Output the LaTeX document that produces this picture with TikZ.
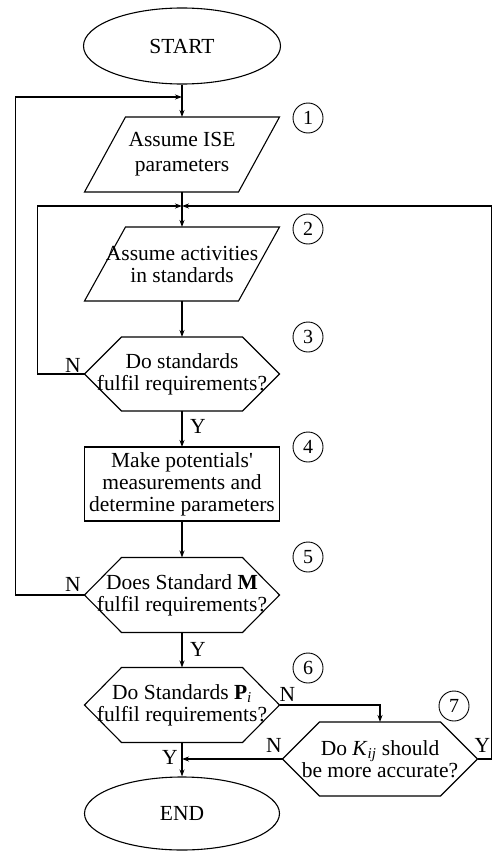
\documentclass[tikz,border=0pt]{standalone}
\usepackage{fontspec}
\setmainfont{Liberation Serif}
\usetikzlibrary{shapes.geometric}
\usetikzlibrary{arrows.meta}
\usetikzlibrary{calc}

\begin{document}
\begin{tikzpicture}[x=1pt, y=-1pt, line width=1.1pt, >={Stealth[length=7pt,width=5pt]},
  font=\fontsize{21.5}{22}\selectfont,
  term/.style={ellipse, draw, minimum width=197pt, minimum height=76pt, inner sep=0pt},
  blk/.style={minimum width=195pt, minimum height=75pt, inner sep=0pt, outer sep=0pt, align=center},
  num/.style={circle, draw, line width=0.9pt, minimum size=30pt, inner sep=0pt, font=\fontsize{20}{22}\selectfont}]
  \useasboundingbox (0,0) rectangle (492,851);
  \node[term] (start) at (182,46) {START};
  \node[blk] (p1) at (182,154.5) {Assume ISE\\[3pt]parameters};
  \node[blk, minimum height=74pt] (p2) at (182,264) {Assume activities\\in standards};
  \node[blk, minimum height=74pt] (h3) at (182,374) {Do standards\\fulfil requirements?};
  \node[blk, draw, minimum height=74pt] (b4) at (182,484) {Make potentials\textquotesingle\\measurements and\\determine parameters};
  \node[blk] (h5) at (182,595) {Does Standard \textbf{M}\\fulfil requirements?};
  \node[blk] (h6) at (182,705) {Do Standards \textbf{P}\textsubscript{\itshape i}\\fulfil requirements?};
  \node[blk, minimum height=74pt] (h7) at (380,759) {Do \textit{K}\textsubscript{\itshape ij} should\\be more accurate?};
  \node[term, minimum width=195pt, minimum height=73pt] (stop) at (182,813.5) {END};
  \node[num] (c1) at (308,118) {1};
  \node[num] (c2) at (308,229) {2};
  \node[num] (c3) at (308,337) {3};
  \node[num] (c4) at (308,447) {4};
  \node[num] (c5) at (308,557) {5};
  \node[num] (c6) at (308,668) {6};
  \node[num] (c7) at (454,706) {7};
  \node (n3) at (73,365) {N};
  \node (y3) at (198,426) {Y};
  \node (n5) at (73,584) {N};
  \node (y5) at (198,649) {Y};
  \node (n6) at (287.5,694) {N};
  \node (n7) at (274,745) {N};
  \node (y7) at (482.5,745) {Y};
  \node (y6) at (170,757) {Y};
  \coordinate (j0) at (182,97);
  \coordinate (j1) at (182,206);
  \coordinate (j2) at (182,759);
  \foreach \n in {p1,p2}
    \draw ([xshift=41pt]\n.north west) -- (\n.north east) -- ([xshift=-41pt]\n.south east)
      -- (\n.south west) -- cycle;
  \foreach \n in {h3,h5,h6,h7}
    \draw ([xshift=37pt]\n.north west) -- ([xshift=-37pt]\n.north east) -- (\n.east)
      -- ([xshift=-37pt]\n.south east) -- ([xshift=37pt]\n.south west) -- (\n.west) -- cycle;
  \foreach \from/\to in {start/p1, p1/p2, p2/h3, h3/b4, b4/h5, h5/h6, h6/stop}
    \draw[->] (\from) -- (\to);
  \draw[->] (h5.west) -- ++(-69,0) |- (j0);
  \draw[->] (h3.west) -- ++(-47,0) |- (j1);
  \draw[->] (h7.east) -- ++(14,0) |- (j1);
  \draw[->] (h6.east) -| (h7.north);
  \draw[->] (h7.west) -- (j2);
\end{tikzpicture}
\end{document}
